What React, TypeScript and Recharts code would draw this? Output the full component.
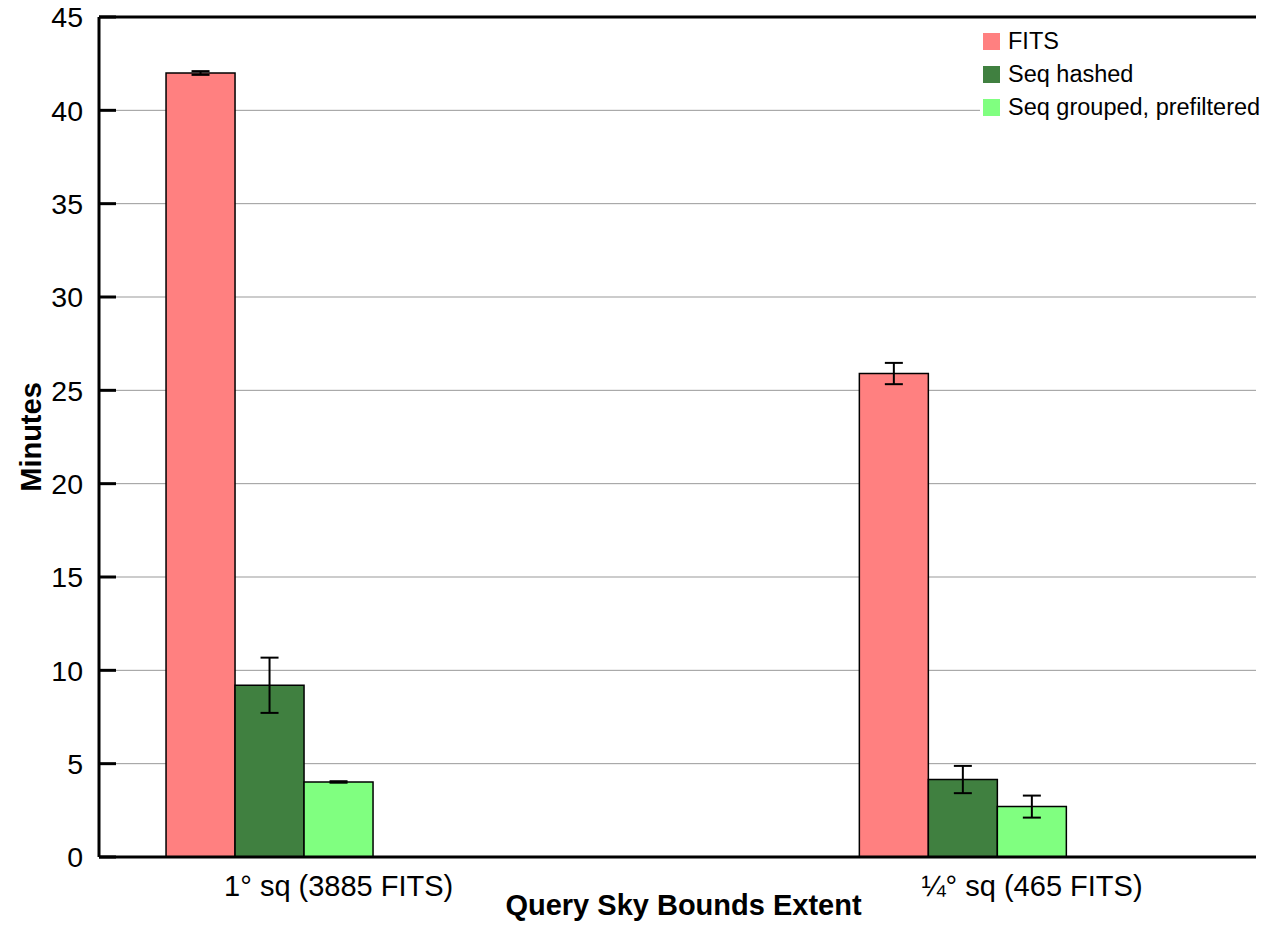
import { Bar, BarChart, CartesianGrid, ErrorBar, Legend, ReferenceLine, XAxis, YAxis } from "recharts";

const FONT = "'Liberation Sans', Arial, Helvetica, sans-serif";

const groupPositions = [0, 1];
const groupLabels = ["1° sq (3885 FITS)", "¼° sq (465 FITS)"];
const fitsMinutes = [42.0, 25.9];
const fitsError = [0.1, 0.57];
const hashedMinutes = [9.2, 4.15];
const hashedError = [1.48, 0.73];
const groupedMinutes = [4.02, 2.7];
const groupedError = [0.04, 0.59];
const yTicks = [0, 5, 10, 15, 20, 25, 30, 35, 40, 45];

const series = [
  { key: "fits", err: "fitsErr", name: "FITS", color: "#ff8080" },
  { key: "hashed", err: "hashedErr", name: "Seq hashed", color: "#408040" },
  { key: "grouped", err: "groupedErr", name: "Seq grouped, prefiltered", color: "#80ff80" },
];

const data = groupPositions.map((pos, i) => ({
  pos,
  fits: fitsMinutes[i],
  fitsErr: fitsError[i],
  hashed: hashedMinutes[i],
  hashedErr: hashedError[i],
  grouped: groupedMinutes[i],
  groupedErr: groupedError[i],
}));

const BAR_WIDTH = 69;

function LeftTick({ x, y, payload }: any) {
  return (
    <g>
      <line x1={x} x2={x + 17} y1={y} y2={y} stroke="#000" strokeWidth={3} />
      <text x={x - 16} y={y} dy="0.36em" textAnchor="end" fontSize={28.5} fontFamily={FONT} fill="#000">
        {payload.value}
      </text>
    </g>
  );
}

function RightTick({ x, y }: any) {
  return <line x1={x - 17} x2={x} y1={y} y2={y} stroke="#000" strokeWidth={3} />;
}

// labels sit under the third bar of each cluster
function BottomTick({ x, y, payload }: any) {
  const label = groupLabels[groupPositions.indexOf(payload.value)];
  return (
    <text x={x + BAR_WIDTH} y={y + 39} textAnchor="middle" fontSize={29} fontFamily={FONT} fill="#000">
      {label}
    </text>
  );
}

function YTitle({ viewBox }: any) {
  const cx = viewBox.x + 31;
  const cy = viewBox.y + viewBox.height / 2;
  return (
    <text
      x={cx}
      y={cy}
      dy="0.36em"
      transform={`rotate(-90, ${cx}, ${cy})`}
      textAnchor="middle"
      fontSize={29}
      fontWeight="bold"
      fontFamily={FONT}
      fill="#000"
    >
      Minutes
    </text>
  );
}

function XTitle({ viewBox }: any) {
  return (
    <text
      x={viewBox.x + viewBox.width / 2 + 6}
      y={viewBox.y + 58}
      textAnchor="middle"
      fontSize={29}
      fontWeight="bold"
      fontFamily={FONT}
      fill="#000"
    >
      Query Sky Bounds Extent
    </text>
  );
}

function LegendBox() {
  return (
    <div style={{ background: "#fff", padding: "0 0 6px 3px", fontFamily: FONT }}>
      {series.map((s) => (
        <div key={s.key} style={{ display: "flex", alignItems: "center", height: 33 }}>
          <span style={{ width: 17, height: 17, background: s.color, display: "inline-block" }} />
          <span style={{ marginLeft: 8, fontSize: 23.5, color: "#000", whiteSpace: "nowrap" }}>{s.name}</span>
        </div>
      ))}
    </div>
  );
}

export default function App() {
  return (
    <div style={{ position: "absolute", left: 0, top: 0, background: "#fff" }}>
      <BarChart
        width={1262}
        height={931}
        data={data}
        margin={{ top: 17, right: 6, bottom: 0, left: 0 }}
        barGap={0}
        barSize={BAR_WIDTH}
      >
        <CartesianGrid vertical={false} stroke="#999" strokeWidth={1} />
        <XAxis
          dataKey="pos"
          type="number"
          domain={[-0.2462, 1.4226]}
          ticks={groupPositions}
          height={74}
          tickLine={false}
          tickSize={0}
          tickMargin={0}
          axisLine={{ stroke: "#000", strokeWidth: 3 }}
          tick={<BottomTick />}
          label={<XTitle />}
        />
        <YAxis
          domain={[0, 45]}
          ticks={yTicks}
          width={99}
          tickLine={false}
          tickSize={0}
          tickMargin={0}
          axisLine={{ stroke: "#000", strokeWidth: 3 }}
          tick={<LeftTick />}
          label={<YTitle />}
        />
        <YAxis
          yAxisId="right"
          orientation="right"
          domain={[0, 45]}
          ticks={yTicks}
          width={0}
          tickLine={false}
          tickSize={0}
          tickMargin={0}
          axisLine={false}
          tick={<RightTick />}
        />
        <ReferenceLine y={45} stroke="#000" strokeWidth={3} />
        <Legend
          layout="vertical"
          align="center"
          verticalAlign="middle"
          wrapperStyle={{ top: 25, left: 980, width: 282 }}
          content={() => <LegendBox />}
        />
        {series.map((s) => (
          <Bar
            key={s.key}
            dataKey={s.key}
            name={s.name}
            fill={s.color}
            stroke="#000"
            strokeWidth={1.5}
            isAnimationActive={false}
          >
            <ErrorBar dataKey={s.err} width={9} stroke="#000" strokeWidth={2} isAnimationActive={false} />
          </Bar>
        ))}
      </BarChart>
    </div>
  );
}
